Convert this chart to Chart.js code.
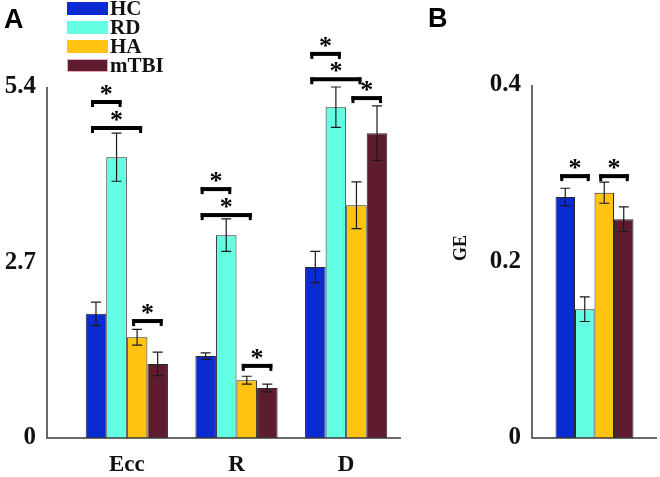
<!DOCTYPE html>
<html>
<head>
<meta charset="utf-8">
<script src="https://cdn.jsdelivr.net/npm/chart.js@4.4.0/dist/chart.umd.min.js"></script>
<style>
  html, body { margin: 0; padding: 0; background: #fff; }
  #wrap { position: relative; width: 660px; height: 477px; overflow: hidden; }
  #chartA { position: absolute; left: 0; top: 0; }
  #chartB { position: absolute; left: 420px; top: 0; }
  .panel { position: absolute; font: bold 27px "Liberation Sans", Arial, sans-serif; line-height: 27px; color: #000; }
  .leg-box { position: absolute; left: 67px; width: 41px; height: 13px; box-sizing: border-box; }
  .leg-text { position: absolute; left: 110px; font: bold 21px "Liberation Serif", serif; line-height: 21px; color: #111; }
</style>
</head>
<body>
<div id="wrap">
  <canvas id="chartA" width="420" height="477"></canvas>
  <canvas id="chartB" width="240" height="477"></canvas>
  <div class="panel" style="left:4px; top:6px;">A</div>
  <div class="panel" style="left:428px; top:5px;">B</div>
  <div id="legend"></div>
</div>
<script>
// groups and their colours
const SERIES = ["HC", "RD", "HA", "mTBI"];
const COLORS = ["#0b2bd2", "#64ffe2", "#ffc310", "#5e1c2e"];

// Panel A: Ecc, R, D
const CATEGORIES_A = ["Ecc", "R", "D"];
const HC_A = [1.91, 1.26, 2.63];
const RD_A = [4.32, 3.12, 5.09];
const HA_A = [1.55, 0.89, 3.58];
const MTBI_A = [1.14, 0.77, 4.69];
const HC_A_ERR = [0.18, 0.05, 0.24];
const RD_A_ERR = [0.37, 0.25, 0.31];
const HA_A_ERR = [0.12, 0.06, 0.36];
const MTBI_A_ERR = [0.18, 0.06, 0.42];
const TICKS_A = [0, 2.7, 5.4];
// significance brackets: category, from group, to group, height
const SIG_A = [
  { cat: 0, from: 0, to: 1, level: 5.2 },
  { cat: 0, from: 0, to: 2, level: 4.8 },
  { cat: 0, from: 2, to: 3, level: 1.83 },
  { cat: 1, from: 0, to: 1, level: 3.86 },
  { cat: 1, from: 0, to: 2, level: 3.46 },
  { cat: 1, from: 2, to: 3, level: 1.14 },
  { cat: 2, from: 0, to: 1, level: 5.94 },
  { cat: 2, from: 0, to: 2, level: 5.55 },
  { cat: 2, from: 2, to: 3, level: 5.26 },
];

// Panel B: GE
const CATEGORIES_B = [""];
const HC_B = [0.273];
const RD_B = [0.146];
const HA_B = [0.278];
const MTBI_B = [0.248];
const HC_B_ERR = [0.010];
const RD_B_ERR = [0.014];
const HA_B_ERR = [0.012];
const MTBI_B_ERR = [0.014];
const TICKS_B = [0, 0.2, 0.4];
const SIG_B = [
  { cat: 0, from: 0, to: 1, level: 0.299 },
  { cat: 0, from: 2, to: 3, level: 0.299 },
];

const SERIF = "Liberation Serif";

// legend
const legend = document.getElementById("legend");
SERIES.forEach((name, i) => {
  const box = document.createElement("div");
  box.className = "leg-box";
  box.style.top = 2 + i * 19 + "px";
  box.style.background = COLORS[i];
  if (name === "mTBI") box.style.border = "1px solid #e6a9bd";
  legend.appendChild(box);
  const txt = document.createElement("div");
  txt.className = "leg-text";
  txt.style.top = -2 + i * 19 + "px";
  txt.textContent = name;
  legend.appendChild(txt);
});

/**
 * Axis lines, error bars and significance brackets
 */
function makeMarks(errors, brackets, axisGap, yTitle) {
  return {
    id: "marks",
    afterDatasetsDraw(chart) {
      const ctx = chart.ctx;
      const y = chart.scales.y;
      const area = chart.chartArea;
      ctx.save();

      // axes
      const ax = area.left - axisGap;
      ctx.strokeStyle = "#3a3a3a";
      ctx.lineWidth = 1.5;
      ctx.beginPath();
      ctx.moveTo(ax, area.top);
      ctx.lineTo(ax, area.bottom);
      ctx.lineTo(area.right, area.bottom);
      ctx.stroke();

      // error bars
      ctx.strokeStyle = "#1a1a1a";
      ctx.lineWidth = 1.2;
      errors.forEach((errs, di) => {
        const meta = chart.getDatasetMeta(di);
        const vals = chart.data.datasets[di].data;
        meta.data.forEach((bar, i) => {
          const hi = y.getPixelForValue(vals[i] + errs[i]);
          const lo = y.getPixelForValue(vals[i] - errs[i]);
          ctx.beginPath();
          ctx.moveTo(bar.x, hi);
          ctx.lineTo(bar.x, lo);
          ctx.moveTo(bar.x - 5, hi);
          ctx.lineTo(bar.x + 5, hi);
          ctx.moveTo(bar.x - 5, lo);
          ctx.lineTo(bar.x + 5, lo);
          ctx.stroke();
        });
      });

      // brackets with asterisks
      ctx.fillStyle = "#000";
      ctx.font = "bold 26px " + SERIF;
      ctx.textAlign = "center";
      ctx.textBaseline = "alphabetic";
      brackets.forEach((b) => {
        const x1 = chart.getDatasetMeta(b.from).data[b.cat].x - 5;
        const x2 = chart.getDatasetMeta(b.to).data[b.cat].x + 5;
        const yy = y.getPixelForValue(b.level);
        ctx.fillRect(x1, yy, x2 - x1, 4);
        ctx.fillRect(x1, yy, 3, 7);
        ctx.fillRect(x2 - 3, yy, 3, 7);
        ctx.fillText("*", (x1 + x2) / 2, yy + 2);
      });

      // rotated y title
      if (yTitle) {
        ctx.translate(41, 248);
        ctx.rotate(-Math.PI / 2);
        ctx.font = "bold 18px " + SERIF;
        ctx.fillStyle = "#111";
        ctx.textBaseline = "middle";
        ctx.fillText(yTitle, 0, 0);
      }
      ctx.restore();
    },
  };
}

function buildDatasets(values, catPct) {
  return values.map((data, i) => ({
    label: SERIES[i],
    data: data,
    backgroundColor: COLORS[i],
    borderColor: "#2a2a2a",
    borderWidth: 1,
    categoryPercentage: catPct,
    barPercentage: 1.0,
  }));
}

function yScale(max, ticks, width, padding) {
  return {
    min: 0,
    max: max,
    afterBuildTicks: (s) => { s.ticks = ticks.map((v) => ({ value: v })); },
    afterFit: (s) => {
      s.width = width;
      // keep the label padding from pushing the plot area around
      s.paddingTop = 0;
      s.paddingBottom = 0;
    },
    grid: { display: false, drawTicks: false },
    border: { display: false },
    ticks: {
      padding: padding,
      color: "#111",
      font: { family: SERIF, size: 25, weight: "bold" },
      callback: (v) => String(v),
    },
  };
}

// Panel A chart
new Chart(document.getElementById("chartA"), {
  type: "bar",
  data: {
    labels: CATEGORIES_A,
    datasets: buildDatasets([HC_A, RD_A, HA_A, MTBI_A], 0.75),
  },
  options: {
    responsive: false,
    animation: false,
    devicePixelRatio: 1,
    layout: { padding: { top: 87, right: 19, left: 0, bottom: 0 } },
    plugins: { legend: { display: false }, tooltip: { enabled: false } },
    scales: {
      x: {
        afterFit: (s) => { s.height = 39; },
        grid: { display: false, drawTicks: false },
        border: { display: false },
        ticks: {
          padding: 13,
          color: "#111",
          font: { family: SERIF, size: 23, weight: "bold" },
        },
      },
      y: yScale(5.4, TICKS_A, 72, 36),
    },
  },
  plugins: [makeMarks([HC_A_ERR, RD_A_ERR, HA_A_ERR, MTBI_A_ERR], SIG_A, 25, null)],
});

// Panel B chart
new Chart(document.getElementById("chartB"), {
  type: "bar",
  data: {
    labels: CATEGORIES_B,
    datasets: buildDatasets([HC_B, RD_B, HA_B, MTBI_B], 0.624),
  },
  options: {
    responsive: false,
    animation: false,
    devicePixelRatio: 1,
    layout: { padding: { top: 85, right: 3, left: 0, bottom: 0 } },
    plugins: { legend: { display: false }, tooltip: { enabled: false } },
    scales: {
      x: {
        afterFit: (s) => { s.height = 39; },
        grid: { display: false, drawTicks: false },
        border: { display: false },
        ticks: { display: false },
      },
      y: yScale(0.4, TICKS_B, 112, 11),
    },
  },
  plugins: [makeMarks([HC_B_ERR, RD_B_ERR, HA_B_ERR, MTBI_B_ERR], SIG_B, 0, "GE")],
});
</script>
</body>
</html>
